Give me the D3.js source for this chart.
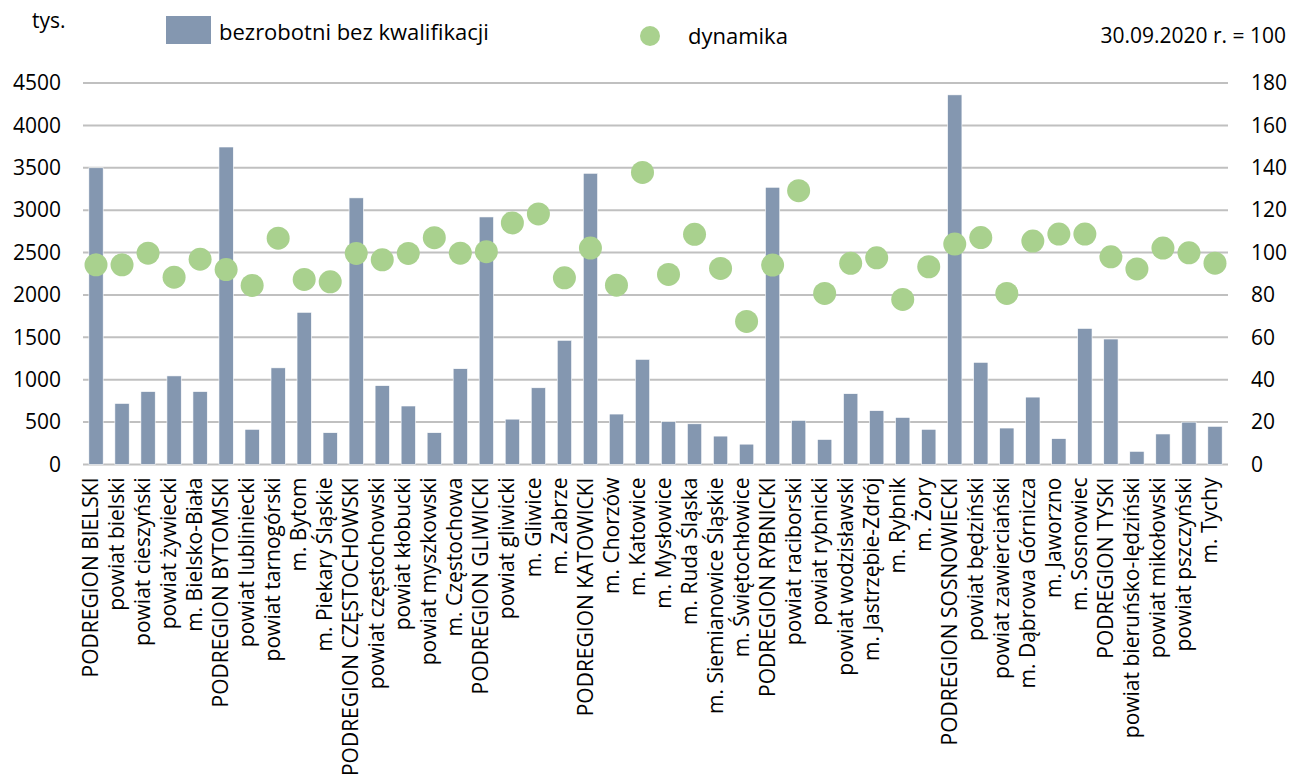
<!DOCTYPE html>
<html>
<head>
<meta charset="utf-8">
<script src="https://cdn.jsdelivr.net/npm/d3@7"></script>
<style>
  body { margin: 0; background: #fff; }
  text { font-family: "Open Sans", sans-serif; fill: #000; }
</style>
</head>
<body>
<div id="chart"></div>
<script>
// categories (powiaty / podregiony)
const categories = [
    "PODREGION BIELSKI", "powiat bielski", "powiat cieszyński", "powiat żywiecki", "m. Bielsko-Biała",
    "PODREGION BYTOMSKI", "powiat lubliniecki", "powiat tarnogórski", "m. Bytom", "m. Piekary Śląskie",
    "PODREGION CZĘSTOCHOWSKI", "powiat częstochowski", "powiat kłobucki", "powiat myszkowski", "m. Częstochowa",
    "PODREGION GLIWICKI", "powiat gliwicki", "m. Gliwice", "m. Zabrze",
    "PODREGION KATOWICKI", "m. Chorzów", "m. Katowice", "m. Mysłowice", "m. Ruda Śląska",
    "m. Siemianowice Śląskie", "m. Świętochłowice",
    "PODREGION RYBNICKI", "powiat raciborski", "powiat rybnicki", "powiat wodzisławski",
    "m. Jastrzębie-Zdrój", "m. Rybnik", "m. Żory",
    "PODREGION SOSNOWIECKI", "powiat będziński", "powiat zawierciański", "m. Dąbrowa Górnicza",
    "m. Jaworzno", "m. Sosnowiec",
    "PODREGION TYSKI", "powiat bieruńsko-lędziński", "powiat mikołowski", "powiat pszczyński", "m. Tychy"
];

// bezrobotni bez kwalifikacji (left axis)
const bezrobotni = [
    3500, 720, 860, 1045, 860,
    3745, 415, 1140, 1795, 375,
    3145, 930, 690, 375, 1130,
    2920, 535, 905, 1465,
    3435, 595, 1240, 505, 480, 335, 240,
    3270, 520, 295, 835, 635, 555, 415,
    4360, 1205, 430, 795, 305, 1605,
    1480, 155, 360, 500, 450
];

// dynamika, 30.09.2020 r. = 100 (right axis)
const dynamika = [
    94.2, 94.2, 99.7, 88.4, 96.9,
    92.0, 84.5, 106.8, 87.3, 86.2,
    99.6, 96.6, 99.6, 107.0, 99.7,
    100.4, 114.0, 118.2, 88.1,
    102.1, 84.6, 137.8, 89.7, 108.6, 92.5, 67.5,
    94.1, 129.2, 80.7, 94.9, 97.5, 77.9, 93.3,
    104.0, 107.1, 80.7, 105.4, 108.7, 108.7,
    98.0, 92.3, 102.1, 99.9, 95.0
];

const leftTicks = [0, 500, 1000, 1500, 2000, 2500, 3000, 3500, 4000, 4500];
const rightTicks = [0, 20, 40, 60, 80, 100, 120, 140, 160, 180];

const width = 1292, height = 781;
const plot = { left: 83, right: 1228, top: 83, bottom: 464.5 };

const barColor = "#8497b0";
const dotColor = "#a9d18e";
const gridColor = "#c0c0c0";
const fontSize = 21;

const svg = d3.select("#chart").append("svg")
    .attr("width", width)
    .attr("height", height);

const x = d3.scaleBand()
    .domain(categories)
    .range([plot.left, plot.right])
    .paddingInner(0.45)
    .paddingOuter(0.225);

const yLeft = d3.scaleLinear().domain([0, 4500]).range([plot.bottom, plot.top]);
const yRight = d3.scaleLinear().domain([0, 180]).range([plot.bottom, plot.top]);

// gridlines
svg.append("g")
    .selectAll("line")
    .data(leftTicks)
    .enter().append("line")
    .attr("x1", plot.left)
    .attr("x2", plot.right)
    .attr("y1", d => yLeft(d))
    .attr("y2", d => yLeft(d))
    .attr("stroke", gridColor)
    .attr("stroke-width", 2);

// left axis
const leftAxis = svg.append("g")
    .attr("transform", `translate(${plot.left - 22},0)`)
    .call(d3.axisLeft(yLeft).tickValues(leftTicks).tickFormat(d3.format("d")).tickSize(0).tickPadding(0));
leftAxis.select(".domain").remove();
leftAxis.selectAll("text")
    .style("font-size", fontSize + "px")
    .style("font-family", "'Open Sans', sans-serif")
    .attr("fill", "#000");

// right axis
const rightAxis = svg.append("g")
    .attr("transform", `translate(${plot.right + 23},0)`)
    .call(d3.axisRight(yRight).tickValues(rightTicks).tickFormat(d3.format("d")).tickSize(0).tickPadding(0));
rightAxis.select(".domain").remove();
rightAxis.selectAll("text")
    .style("font-size", fontSize + "px")
    .style("font-family", "'Open Sans', sans-serif")
    .attr("fill", "#000");

// bars
svg.append("g")
    .selectAll("rect")
    .data(categories)
    .enter().append("rect")
    .attr("x", d => x(d))
    .attr("width", x.bandwidth())
    .attr("y", (d, i) => yLeft(bezrobotni[i]))
    .attr("height", (d, i) => yLeft(0) - yLeft(bezrobotni[i]))
    .attr("fill", barColor)
    .attr("stroke", "#fff")
    .attr("stroke-width", 0.6);

// dots
svg.append("g")
    .selectAll("circle")
    .data(categories)
    .enter().append("circle")
    .attr("cx", d => x(d) + x.bandwidth() / 2)
    .attr("cy", (d, i) => yRight(dynamika[i]))
    .attr("r", 11.5)
    .attr("fill", dotColor);

// category labels
const xAxis = svg.append("g")
    .attr("transform", `translate(0,${plot.bottom})`)
    .call(d3.axisBottom(x).tickSize(0).tickPadding(0));
xAxis.select(".domain").remove();
xAxis.selectAll("text")
    .style("font-size", fontSize + "px")
    .style("font-family", "'Open Sans', sans-serif")
    .attr("fill", "#000")
    .attr("text-anchor", "end")
    .attr("transform", "rotate(-90)")
    .attr("x", -13)
    .attr("y", 0)
    .attr("dy", "0.1em");

// unit labels
svg.append("text")
    .attr("x", 32)
    .attr("y", 28)
    .style("font-size", fontSize + "px")
    .text("tys.");

svg.append("text")
    .attr("x", 1286)
    .attr("y", 43)
    .attr("text-anchor", "end")
    .style("font-size", fontSize + "px")
    .text("30.09.2020 r. = 100");

// legend
const legend = svg.append("g");
legend.append("rect")
    .attr("x", 166)
    .attr("y", 16)
    .attr("width", 45)
    .attr("height", 28)
    .attr("fill", barColor);
legend.append("text")
    .attr("x", 219)
    .attr("y", 40)
    .style("font-size", "22px")
    .text("bezrobotni bez kwalifikacji");
legend.append("circle")
    .attr("cx", 650)
    .attr("cy", 36)
    .attr("r", 10)
    .attr("fill", dotColor);
legend.append("text")
    .attr("x", 688)
    .attr("y", 44)
    .style("font-size", "22px")
    .text("dynamika");
</script>
</body>
</html>
